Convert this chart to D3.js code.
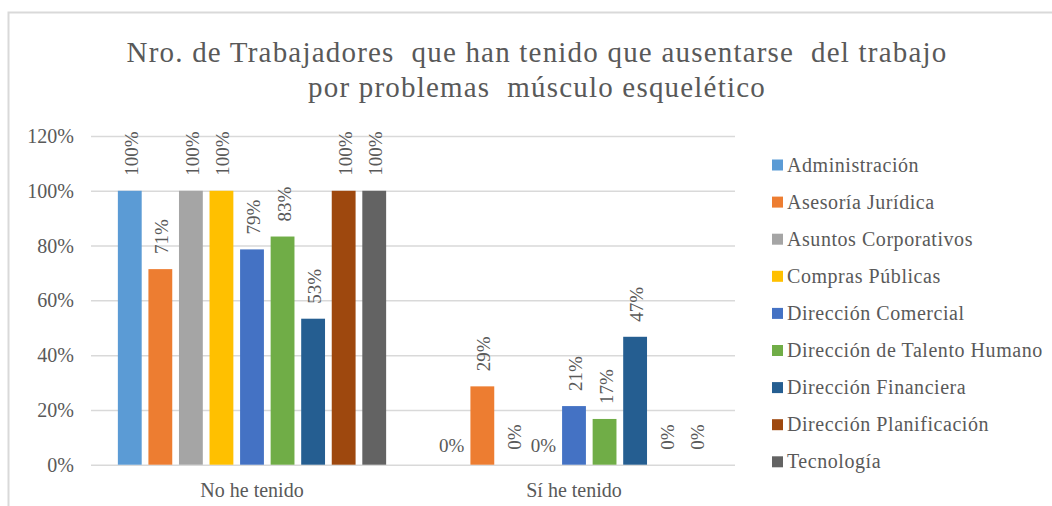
<!DOCTYPE html>
<html>
<head>
<meta charset="utf-8">
<script src="https://cdn.jsdelivr.net/npm/d3@7"></script>
<style>
  html, body { margin: 0; padding: 0; background: #fff; }
  svg { display: block; }
  svg text { font-family: "Liberation Serif", "Tinos", "Times New Roman", "DejaVu Serif", "Noto Serif", serif !important; fill: #595959; white-space: pre; }
</style>
</head>
<body>
<svg id="chart" width="1052" height="506"></svg>
<script>
// ---- data ----
const categories = ["No he tenido", "Sí he tenido"];
const seriesNames = [
  "Administración", "Asesoría Jurídica", "Asuntos Corporativos", "Compras Públicas",
  "Dirección Comercial", "Dirección de Talento Humano", "Dirección Financiera",
  "Dirección Planificación", "Tecnología"
];
const noHeTenido = [1.00, 0.714, 1.00, 1.00, 0.786, 0.833, 0.533, 1.00, 1.00];
const siHeTenido = [0.00, 0.286, 0.00, 0.00, 0.214, 0.167, 0.467, 0.00, 0.00];
const seriesColors = ["#5B9BD5", "#ED7D31", "#A5A5A5", "#FFC000", "#4472C4", "#70AD47", "#255E91", "#9E480E", "#636363"];
const yTicks = [0, 0.2, 0.4, 0.6, 0.8, 1.0, 1.2];
const titleLines = ["Nro. de Trabajadores  que han tenido que ausentarse  del trabajo", "por problemas  músculo esquelético"];
// labels Excel drew horizontally instead of rotated
const horizontalLabels = [["Sí he tenido", "Administración"], ["Sí he tenido", "Compras Públicas"]];

const valuesByCategory = { "No he tenido": noHeTenido, "Sí he tenido": siHeTenido };

const svg = d3.select("#chart");
const grey = "#595959";

// border
svg.append("path")
  .attr("d", "M8.5,506 L8.5,12.5 L1052,12.5")
  .attr("fill", "none").attr("stroke", "#d9d9d9").attr("stroke-width", 2);

// title
svg.append("g").selectAll("text").data(titleLines).join("text")
  .attr("x", 537).attr("y", (d, i) => 62 + i * 35)
  .attr("text-anchor", "middle")
  .style("font-size", "29px").style("letter-spacing", "1.2px")
  .text(d => d);

// scales
const plot = { left: 91, right: 735, top: 136, bottom: 464.7 };
const y = d3.scaleLinear().domain([0, 1.2]).range([plot.bottom, plot.top]);
const x0 = d3.scaleBand().domain(categories).range([plot.left, plot.right]);
const groupWidth = 275;
const x1 = d3.scaleBand().domain(seriesNames).range([0, groupWidth]).paddingInner(0.22).paddingOuter(0.11);
const color = d3.scaleOrdinal().domain(seriesNames).range(seriesColors);
const pct = d3.format(".0%");

// gridlines + y labels
const yAxis = d3.axisLeft(y).tickValues(yTicks).tickFormat(pct)
  .tickSize(-(plot.right - plot.left)).tickPadding(17);
const gy = svg.append("g").attr("transform", `translate(${plot.left},0)`).call(yAxis)
  .attr("font-family", null).attr("font-size", null);
gy.select(".domain").remove();
gy.selectAll(".tick line").attr("stroke", "#d9d9d9").attr("stroke-width", 1.5);
gy.selectAll(".tick text").attr("fill", grey).style("font-size", "20px").attr("dy", "0.33em");

// x category labels
const xAxis = d3.axisBottom(x0).tickSize(0).tickPadding(0);
const gx = svg.append("g").attr("transform", `translate(0,${plot.bottom})`).call(xAxis)
  .attr("font-family", null).attr("font-size", null);
gx.select(".domain").remove();
gx.selectAll(".tick text").attr("fill", grey).style("font-size", "20px").attr("y", 32).attr("dy", 0);

// bars
const flat = [];
categories.forEach(c => {
  valuesByCategory[c].forEach((v, i) => flat.push({ cat: c, series: seriesNames[i], value: v }));
});
const gx0 = c => x0(c) + (x0.bandwidth() - groupWidth) / 2;
const barX = d => gx0(d.cat) + x1(d.series);

svg.append("g").selectAll("rect").data(flat).join("rect")
  .attr("x", barX)
  .attr("y", d => y(d.value))
  .attr("width", x1.bandwidth())
  .attr("height", d => y(0) - y(d.value))
  .attr("fill", d => color(d.series));

// data labels
const isHorizontal = d => horizontalLabels.some(h => h[0] === d.cat && h[1] === d.series);
const labels = svg.append("g");
flat.forEach(d => {
  const cx = barX(d) + x1.bandwidth() / 2;
  if (isHorizontal(d)) {
    labels.append("text")
      .attr("x", cx).attr("y", y(d.value) - 13)
      .attr("text-anchor", "middle")
      .style("font-size", "19px")
      .text(pct(d.value));
  } else {
    labels.append("text")
      .attr("transform", `translate(${cx + 8},${y(d.value) - 15}) rotate(-90)`)
      .attr("text-anchor", "start")
      .style("font-size", "19px")
      .text(pct(d.value));
  }
});

// legend
const legend = svg.append("g").selectAll("g").data(seriesNames).join("g")
  .attr("transform", (d, i) => `translate(772,${165 + i * 37.1})`);
legend.append("rect").attr("x", 0).attr("y", -5.5).attr("width", 11).attr("height", 11)
  .attr("fill", d => color(d));
legend.append("text").attr("x", 15).attr("y", 6.5)
  .style("font-size", "20px").style("letter-spacing", "0.55px")
  .text(d => d);
</script>
</body>
</html>
